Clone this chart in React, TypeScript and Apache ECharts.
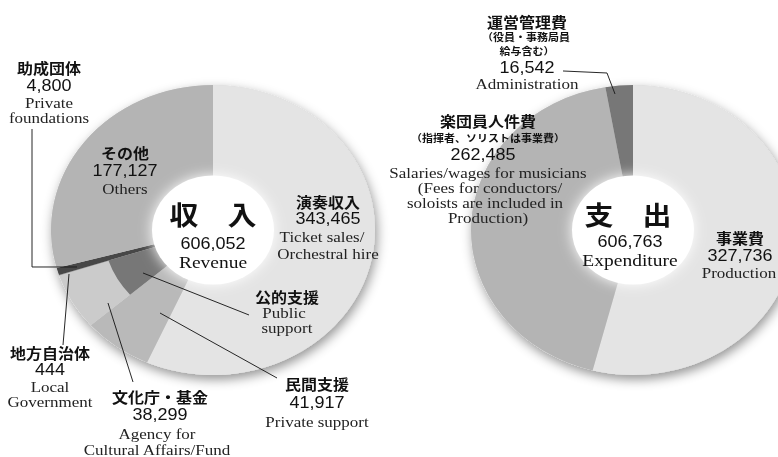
import React, { useEffect, useRef } from "react";
import * as echarts from "echarts";

// ---------- data ----------
const revenueCategories = ["演奏収入", "民間支援", "文化庁・基金", "地方自治体", "助成団体", "その他"];
const revenueValues = [343465, 41917, 38299, 444, 4800, 177127];
const revenueEnglish = [
  ["Ticket sales/", "Orchestral hire"],
  ["Private support"],
  ["Agency for", "Cultural Affairs/Fund"],
  ["Local", "Government"],
  ["Private", "foundations"],
  ["Others"],
];
const publicSupportName = "公的支援";
const publicSupportEnglish = ["Public", "support"];
const publicSupportMembers = [2, 3]; // 文化庁・基金 + 地方自治体
const revenueTitle = "収　入";
const revenueTitleEnglish = "Revenue";
const revenueTotal = 606052;

const expenditureCategories = ["事業費", "楽団員人件費", "運営管理費"];
const expenditureNotes = [[], ["（指揮者、ソリストは事業費）"], ["（役員・事務局員", "給与含む）"]];
const expenditureValues = [327736, 262485, 16542];
const expenditureEnglish = [
  ["Production"],
  ["Salaries/wages for musicians", "(Fees for conductors/", "soloists are included in", "Production)"],
  ["Administration"],
];
const expenditureTitle = "支　出";
const expenditureTitleEnglish = "Expenditure";
const expenditureTotal = 606763;

// ---------- styles / layout ----------
const S = 0.895; // vertical squash of the whole figure
const W = 778;
const H = 457;
const CY = 230 / S;
const LEFT_CX = 213;
const RIGHT_CX = 633;
const R_HOLE = 61;
const R_MID = 110;
const R_OUT = 162;

const revenueColors = ["#e4e4e4", "#b9b9b9", "#cbcbcb", "#9a9a9a", "#474747", "#b4b4b4"];
const publicSupportColor = "#777777";
const expenditureColors = ["#e4e4e4", "#b4b4b4", "#777777"];

const FONT_JP = '"Noto Sans CJK JP", sans-serif';
const FONT_NUM = '"Liberation Sans", Arial, sans-serif';
const FONT_EN = '"Liberation Serif", "Times New Roman", serif';

const fmt = (v: number) => v.toLocaleString("en-US");

type Kind = "jp" | "jps" | "num" | "en" | "big" | "bigen";
const kindStyle: Record<Kind, any> = {
  jp: { fontFamily: FONT_JP, fontWeight: "bold", fontSize: 16, fill: "#111" },
  jps: { fontFamily: FONT_JP, fontWeight: "bold", fontSize: 11, fill: "#111" },
  num: { fontFamily: FONT_NUM, fontWeight: "normal", fontSize: 18, fill: "#111" },
  en: { fontFamily: FONT_EN, fontWeight: "normal", fontSize: 17, fill: "#222" },
  big: { fontFamily: FONT_JP, fontWeight: "bold", fontSize: 29, fill: "#111" },
  bigen: { fontFamily: FONT_EN, fontWeight: "normal", fontSize: 19.5, fill: "#111" },
};

// label positions (x, y in picture pixels)
const revenueLabelPos: [number, number][][] = [
  [[328, 201], [328, 219], [322, 237], [328, 253.5]],
  [[317, 383], [317, 403], [317, 421.5]],
  [[160, 396], [160, 415], [157, 433.5], [157, 449.5]],
  [[50, 352], [50, 370], [50, 387], [50, 402]],
  [[49, 67], [49, 86], [49, 102.5], [49, 117.5]],
  [[125, 152], [125, 171], [125, 188.5]],
];
const publicSupportPos: [number, number][] = [[287, 296], [284, 313], [287, 328]];
const expenditureLabelPos: [number, number][][] = [
  [[740, 237], [740, 256], [739, 272.5]],
  [[488, 120.5], [488, 138], [483, 154.5], [488, 173], [490, 188], [485, 203], [488, 218]],
  [[527, 21], [526, 37], [527, 51], [527, 68], [527, 83.5]],
];
const revenueCenterPos: [number, number][] = [[213, 213.5], [213, 243.5], [213, 262]];
const expenditureCenterPos: [number, number][] = [[628, 213.5], [630, 241.5], [630, 260]];

const leaderLines: [number, number][][] = [
  [[32, 129], [32, 267], [77, 267]], // 助成団体
  [[69, 274], [63, 345]], // 地方自治体
  [[108, 303], [133, 382]], // 文化庁・基金
  [[143, 273], [249, 315]], // 公的支援
  [[160, 313], [277, 378]], // 民間支援
  [[563, 71], [607, 73], [615, 94]], // 運営管理費
];

function textEl(text: string, kind: Kind, pos: [number, number]) {
  return {
    type: "text",
    z: 100,
    x: pos[0],
    y: pos[1] / S,
    silent: true,
    style: {
      text,
      ...kindStyle[kind],
      textAlign: "center",
      textVerticalAlign: "middle",
      align: "center",
      verticalAlign: "middle",
    },
  };
}

function buildOption() {
  const graphics: any[] = [];

  revenueCategories.forEach((name, i) => {
    const pos = revenueLabelPos[i];
    const lines: [string, Kind][] = [[name, "jp"], [fmt(revenueValues[i]), "num"]];
    revenueEnglish[i].forEach((t) => lines.push([t, "en"]));
    lines.forEach(([t, k], j) => graphics.push(textEl(t, k, pos[j])));
  });
  [[publicSupportName, "jp"] as [string, Kind], ...publicSupportEnglish.map((t) => [t, "en"] as [string, Kind])].forEach(
    ([t, k], j) => graphics.push(textEl(t, k, publicSupportPos[j]))
  );

  expenditureCategories.forEach((name, i) => {
    const pos = expenditureLabelPos[i];
    const lines: [string, Kind][] = [[name, "jp"]];
    expenditureNotes[i].forEach((t) => lines.push([t, "jps"]));
    lines.push([fmt(expenditureValues[i]), "num"]);
    expenditureEnglish[i].forEach((t) => lines.push([t, "en"]));
    lines.forEach(([t, k], j) => graphics.push(textEl(t, k, pos[j])));
  });

  graphics.push(textEl(revenueTitle, "big", revenueCenterPos[0]));
  graphics.push(textEl(fmt(revenueTotal), "num", revenueCenterPos[1]));
  graphics.push(textEl(revenueTitleEnglish, "bigen", revenueCenterPos[2]));
  graphics.push(textEl(expenditureTitle, "big", expenditureCenterPos[0]));
  graphics.push(textEl(fmt(expenditureTotal), "num", expenditureCenterPos[1]));
  graphics.push(textEl(expenditureTitleEnglish, "bigen", expenditureCenterPos[2]));

  leaderLines.forEach((pts) =>
    graphics.push({
      type: "polyline",
      z: 99,
      silent: true,
      shape: { points: pts.map(([x, y]) => [x, y / S]) },
      style: { stroke: "#1a1a1a", lineWidth: 1, fill: null },
    })
  );

  const pieBase = {
    type: "pie",
    silent: true,
    label: { show: false },
    labelLine: { show: false },
    emphasis: { disabled: true },
    startAngle: 90,
    clockwise: true,
    itemStyle: { borderWidth: 0 },
  };

  // inner ring overlay: only the grouped public support is visible
  const innerData: any[] = [];
  revenueCategories.forEach((name, i) => {
    if (i === publicSupportMembers[0]) {
      innerData.push({
        name: publicSupportName,
        value: publicSupportMembers.reduce((s, k) => s + revenueValues[k], 0),
        itemStyle: { color: publicSupportColor },
      });
    } else if (!publicSupportMembers.includes(i)) {
      innerData.push({ name, value: revenueValues[i], itemStyle: { color: "rgba(0,0,0,0)" } });
    }
  });
  const outerData = revenueCategories.map((name, i) => ({
    name,
    value: revenueValues[i],
    itemStyle: { color: revenueColors[i] },
  }));
  const expData = expenditureCategories.map((name, i) => ({
    name,
    value: expenditureValues[i],
    itemStyle: { color: expenditureColors[i] },
  }));

  const shadowDisk = (cx: number) => ({
    ...pieBase,
    z: 1,
    center: [cx, CY],
    radius: [0, R_OUT],
    data: [
      {
        value: 1,
        itemStyle: {
          color: "#d8d8d8",
          shadowBlur: 12,
          shadowOffsetX: 2,
          shadowOffsetY: 5,
          shadowColor: "rgba(0,0,0,0.42)",
        },
      },
    ],
  });
  const hole = (cx: number) => ({
    ...pieBase,
    z: 4,
    center: [cx, CY],
    radius: [0, R_HOLE],
    data: [
      {
        value: 1,
        itemStyle: { color: "#ffffff", shadowBlur: 14, shadowColor: "rgba(255,255,255,1)" },
      },
    ],
  });

  return {
    animation: false,
    backgroundColor: "#ffffff",
    series: [
      shadowDisk(LEFT_CX),
      shadowDisk(RIGHT_CX),
      { ...pieBase, z: 2, center: [LEFT_CX, CY], radius: [R_HOLE - 2, R_OUT], data: outerData },
      { ...pieBase, z: 3, center: [LEFT_CX, CY], radius: [R_HOLE - 2, R_MID], data: innerData },
      { ...pieBase, z: 2, center: [RIGHT_CX, CY], radius: [R_HOLE - 2, R_OUT], data: expData },
      hole(LEFT_CX),
      hole(RIGHT_CX),
    ],
    graphic: graphics,
  };
}

export default function App() {
  const ref = useRef<HTMLDivElement>(null);
  useEffect(() => {
    if (!ref.current) return;
    const chart = echarts.init(ref.current, undefined, { renderer: "svg" });
    chart.setOption(buildOption() as any);
    return () => chart.dispose();
  }, []);
  return (
    <div style={{ position: "fixed", left: 0, top: 0, width: W, height: H, overflow: "hidden", background: "#fff" }}>
      <div
        ref={ref}
        style={{
          width: W,
          height: H / S,
          transform: `scaleY(${S})`,
          transformOrigin: "0 0",
        }}
      />
    </div>
  );
}
